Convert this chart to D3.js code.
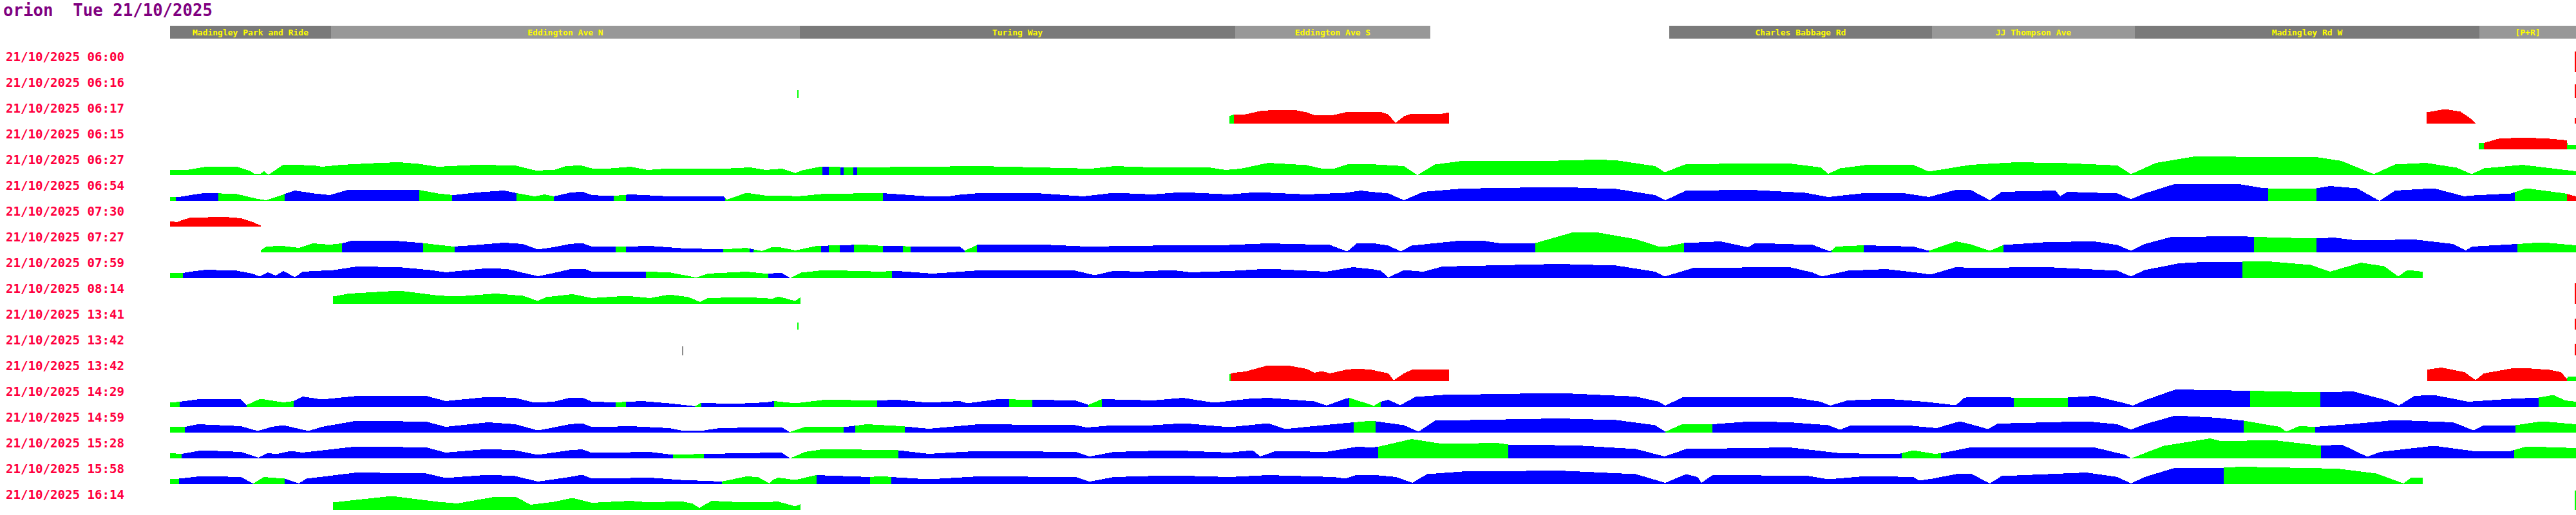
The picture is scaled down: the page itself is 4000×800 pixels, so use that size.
<!DOCTYPE html>
<html>
<head>
<meta charset="utf-8">
<script src="https://cdn.jsdelivr.net/npm/d3@7"></script>
<style>
  body { margin: 0; background: #fff; }
  svg { display: block; }
</style>
</head>
<body>
<div id="chart"></div>
<script>
const width = 4000;
const height = 800;

const title = 'orion  Tue 21/10/2025';

// Trip start times, one row each (top to bottom)
const tripTimes = ['21/10/2025 06:00', '21/10/2025 06:16', '21/10/2025 06:17', '21/10/2025 06:15',
  '21/10/2025 06:27', '21/10/2025 06:54', '21/10/2025 07:30', '21/10/2025 07:27', '21/10/2025 07:59',
  '21/10/2025 08:14', '21/10/2025 13:41', '21/10/2025 13:42', '21/10/2025 13:42', '21/10/2025 14:29',
  '21/10/2025 14:59', '21/10/2025 15:28', '21/10/2025 15:58', '21/10/2025 16:14'];

// Route sections (distance along route, metres)
const routeLength = 3736;
const roadNames = ['Madingley Park and Ride', 'Eddington Ave N', 'Turing Way', 'Eddington Ave S',
  'Charles Babbage Rd', 'JJ Thompson Ave', 'Madingley Rd W', '[P+R]'];
const roadFrom = [0, 250, 978, 1654, 2328, 2736, 3051, 3586];
const roadTo = [250, 978, 1654, 1957, 2736, 3051, 3586, 3736];

// Speed profiles: flat [distance, speed, distance, speed, ...]
const sp0600 = [3734, 64, 3736, 64];
const sp0616 = [974, 24, 976, 24, 3734, 42, 3736, 42];
const sp0617 = [1645, 23, 1652, 29, 1670, 29, 1693, 39, 1717, 43, 1747, 42, 1765, 35, 1777, 26, 1807, 27,
  1825, 35, 1866, 37, 1880, 36, 1892, 28, 1903, 2, 1916, 23, 1928, 31, 1976, 31, 1986, 35,
  3504, 35, 3533, 45, 3557, 37, 3575, 12, 3580, 0, 3734, 18, 3736, 18];
const sp0615 = [3585, 20, 3593, 20, 3616, 33, 3653, 37, 3695, 33, 3722, 28, 3723, 14, 3736, 14];
const sp0627 = [0, 17, 26, 16, 56, 26, 104, 26, 125, 12, 131, 4, 140, 4, 146, 12, 153, 1, 176, 33, 224, 30,
  236, 26, 266, 32, 326, 38, 356, 40, 386, 35, 416, 26, 476, 32, 536, 30, 560, 18, 569, 14, 589, 16,
  596, 16, 614, 28, 638, 30, 655, 21, 685, 21, 715, 26, 742, 16, 775, 21, 835, 21, 871, 21, 901, 24,
  925, 16, 950, 20, 971, 6, 980, 14, 1010, 26, 1070, 24, 1166, 26, 1256, 28, 1346, 24, 1430, 20,
  1466, 28, 1526, 24, 1616, 23, 1639, 16, 1663, 20, 1705, 38, 1765, 31, 1789, 20, 1807, 20, 1831, 35,
  1856, 35, 1916, 28, 1937, 0, 1964, 33, 2006, 44, 2156, 45, 2216, 48, 2246, 46, 2306, 28, 2321, 9,
  2354, 34, 2456, 36, 2515, 36, 2563, 24, 2575, 4, 2593, 21, 2635, 32, 2707, 32, 2731, 11, 2796, 32,
  2868, 40, 2946, 37, 3024, 30, 3045, 3, 3084, 38, 3144, 58, 3336, 55, 3372, 44, 3422, 3, 3455, 33,
  3503, 38, 3551, 23, 3574, 3, 3593, 21, 3653, 32, 3736, 12];
const sp0654 = [0, 12, 14, 12, 32, 18, 56, 25, 104, 21, 134, 7, 149, 2, 176, 20, 194, 32, 224, 23, 248, 18,
  278, 35, 326, 35, 386, 34, 416, 23, 440, 18, 476, 26, 518, 32, 536, 25, 566, 14, 581, 20, 596, 14,
  620, 25, 640, 29, 655, 18, 685, 15, 715, 20, 775, 14, 859, 14, 865, 4, 895, 25, 919, 18, 926, 16,
  950, 17, 974, 14, 1016, 22, 1106, 24, 1178, 14, 1208, 14, 1226, 19, 1262, 25, 1346, 24, 1418, 14,
  1466, 25, 1526, 20, 1571, 27, 1645, 20, 1687, 27, 1765, 20, 1825, 25, 1849, 32, 1856, 30, 1892, 23,
  1916, 2, 1946, 28, 2006, 38, 2156, 43, 2246, 37, 2306, 18, 2322, 2, 2354, 32, 2456, 34, 2539, 25,
  2575, 12, 2635, 25, 2695, 23, 2731, 12, 2773, 34, 2796, 34, 2826, 2, 2844, 28, 2928, 32, 2935, 14,
  2946, 28, 3024, 23, 3045, 5, 3066, 23, 3114, 53, 3216, 51, 3246, 41, 3258, 39, 3333, 39, 3354, 46,
  3396, 39, 3431, 0, 3455, 32, 3515, 39, 3563, 14, 3569, 16, 3635, 23, 3659, 39, 3719, 23, 3736, 14];
const sp0730 = [0, 17, 11, 14, 20, 21, 32, 28, 86, 30, 110, 26, 131, 12, 141, 3];
const sp0727 = [141, 7, 149, 17, 170, 21, 200, 14, 221, 28, 248, 24, 267, 28, 284, 37, 356, 35, 392, 29,
  440, 18, 476, 23, 518, 30, 548, 26, 571, 9, 596, 16, 620, 26, 640, 29, 655, 18, 692, 17, 745, 20,
  793, 13, 859, 9, 895, 14, 919, 4, 936, 17, 944, 17, 971, 6, 1004, 20, 1076, 24, 1106, 20, 1130, 21,
  1154, 17, 1226, 19, 1234, 5, 1253, 23, 1346, 25, 1424, 18, 1526, 21, 1645, 23, 1705, 28, 1801, 23,
  1828, 3, 1843, 28, 1866, 29, 1892, 21, 1911, 3, 1928, 21, 2006, 37, 2036, 37, 2066, 28, 2120, 29,
  2180, 63, 2216, 62, 2276, 41, 2312, 18, 2321, 17, 2351, 29, 2408, 34, 2450, 16, 2462, 29, 2551, 23,
  2578, 3, 2587, 18, 2630, 22, 2707, 18, 2731, 5, 2773, 34, 2796, 25, 2826, 5, 2847, 23, 2916, 32,
  2988, 34, 3024, 23, 3045, 5, 3066, 26, 3108, 48, 3216, 50, 3236, 48, 3333, 43, 3360, 46, 3396, 37,
  3485, 40, 3545, 26, 3565, 6, 3575, 18, 3645, 26, 3683, 31, 3736, 22];
const sp0759 = [0, 16, 20, 16, 32, 20, 56, 26, 104, 23, 128, 14, 139, 5, 152, 18, 164, 8, 176, 22, 194, 3,
  206, 20, 254, 25, 290, 36, 356, 34, 404, 25, 428, 18, 494, 31, 524, 28, 571, 6, 596, 16, 620, 27,
  644, 29, 655, 20, 739, 20, 775, 18, 817, 2, 835, 14, 895, 20, 925, 14, 950, 16, 963, 0, 980, 17,
  1016, 25, 1106, 20, 1124, 23, 1184, 14, 1256, 24, 1406, 23, 1436, 9, 1466, 23, 1502, 20, 1556, 25,
  1585, 18, 1645, 22, 1705, 29, 1765, 23, 1795, 20, 1837, 34, 1866, 28, 1880, 23, 1892, 2, 1916, 25,
  1946, 20, 1976, 36, 2156, 44, 2246, 39, 2306, 20, 2321, 5, 2366, 32, 2515, 34, 2551, 17, 2565, 5,
  2605, 23, 2665, 28, 2713, 17, 2734, 11, 2773, 34, 2796, 32, 2916, 34, 3024, 23, 3045, 5, 3066, 25,
  3120, 46, 3156, 50, 3218, 51, 3252, 53, 3324, 41, 3354, 20, 3402, 48, 3438, 37, 3460, 5, 3474, 25,
  3498, 20];
const sp0814 = [253, 23, 278, 32, 356, 41, 416, 26, 446, 23, 506, 32, 548, 25, 571, 9, 584, 21, 625, 30,
  655, 18, 709, 25, 745, 18, 775, 29, 805, 21, 823, 6, 835, 18, 895, 21, 936, 16, 944, 23, 971, 9,
  979, 21, 3734, 64, 3736, 64];
const sp1341 = [974, 22, 976, 22, 3734, 34, 3736, 34];
const sp1342a = [795, 28, 797, 28, 3734, 36, 3736, 36];
const sp1342b = [1645, 22, 1652, 26, 1670, 30, 1705, 49, 1735, 49, 1765, 38, 1777, 26, 1789, 31, 1801, 24,
  1825, 35, 1843, 39, 1866, 35, 1892, 24, 1900, 3, 1916, 24, 1928, 35, 1986, 37,
  3505, 36, 3527, 42, 3563, 28, 3580, 3, 3593, 24, 3635, 39, 3653, 41, 3695, 35, 3713, 28, 3722, 6,
  3723, 14, 3736, 14];
const sp1429 = [0, 13, 15, 16, 50, 25, 110, 23, 119, 6, 140, 25, 176, 14, 192, 18, 206, 32, 236, 23,
  296, 35, 398, 34, 428, 18, 494, 31, 536, 28, 566, 13, 596, 16, 620, 28, 640, 29, 655, 16, 692, 14,
  733, 18, 775, 11, 815, 2, 825, 13, 871, 9, 926, 14, 938, 18, 971, 11, 1016, 22, 1098, 20, 1130, 22,
  1178, 13, 1226, 18, 1238, 11, 1286, 24, 1339, 22, 1406, 20, 1426, 6, 1447, 24, 1526, 20, 1573, 28,
  1621, 13, 1675, 25, 1705, 28, 1777, 17, 1796, 4, 1825, 25, 1831, 28, 1866, 6, 1868, 2, 1880, 16,
  1892, 22, 1910, 5, 1934, 31, 1976, 37, 2156, 43, 2276, 32, 2312, 16, 2322, 4, 2348, 29, 2515, 31,
  2563, 16, 2578, 4, 2605, 20, 2665, 25, 2725, 16, 2773, 5, 2786, 28, 2796, 31, 2850, 31, 2863, 28,
  2947, 29, 2988, 34, 3036, 11, 3048, 4, 3066, 20, 3114, 54, 3230, 50, 3339, 45, 3390, 48, 3443, 20,
  3461, 4, 3485, 34, 3515, 37, 3569, 16, 3635, 25, 3678, 29, 3701, 37, 3719, 20, 3736, 16];
const sp1459 = [0, 17, 23, 18, 44, 26, 110, 20, 136, 5, 158, 18, 176, 23, 215, 5, 236, 18, 290, 37,
  398, 34, 428, 18, 494, 32, 536, 26, 571, 7, 596, 16, 620, 26, 640, 29, 655, 17, 715, 20, 775, 14,
  793, 7, 823, 5, 853, 14, 936, 17, 950, 16, 962, 2, 986, 18, 1046, 17, 1082, 26, 1136, 20, 1178, 12,
  1256, 26, 1406, 23, 1424, 16, 1466, 23, 1526, 23, 1574, 29, 1645, 17, 1705, 29, 1732, 11, 1765, 18,
  1838, 32, 1866, 37, 1916, 23, 1939, 3, 1964, 37, 2156, 44, 2246, 39, 2306, 23, 2322, 3, 2348, 26,
  2395, 26, 2456, 35, 2515, 32, 2575, 23, 2593, 9, 2611, 23, 2695, 23, 2743, 14, 2779, 35, 2796, 26,
  2823, 11, 2838, 28, 2976, 35, 3024, 26, 3045, 9, 3066, 26, 3114, 53, 3180, 46, 3220, 37, 3276, 18,
  3286, 3, 3306, 20, 3331, 18, 3396, 28, 3455, 39, 3545, 32, 3577, 7, 3593, 23, 3642, 23, 3683, 35,
  3736, 26];
const sp1528 = [0, 16, 18, 14, 50, 25, 110, 20, 137, 2, 152, 17, 164, 13, 188, 23, 206, 18, 290, 37,
  398, 34, 428, 18, 494, 29, 536, 25, 571, 11, 620, 25, 640, 28, 655, 17, 745, 20, 781, 11, 829, 14,
  895, 16, 936, 18, 950, 17, 963, 0, 986, 20, 1016, 29, 1131, 25, 1178, 14, 1256, 23, 1406, 20,
  1428, 6, 1466, 20, 1555, 25, 1645, 18, 1681, 25, 1693, 6, 1717, 23, 1795, 20, 1843, 36, 1866, 34,
  1876, 36, 1928, 60, 1976, 45, 2060, 48, 2078, 43, 2186, 40, 2276, 29, 2321, 6, 2354, 29, 2515, 34,
  2593, 16, 2683, 13, 2707, 25, 2740, 14, 2750, 16, 2796, 34, 2988, 34, 3036, 11, 3045, 0, 3096, 39,
  3168, 62, 3186, 53, 3264, 57, 3324, 43, 3340, 39, 3372, 43, 3412, 5, 3432, 20, 3515, 39, 3575, 23,
  3635, 23, 3659, 37, 3736, 32];
const sp1558 = [0, 16, 14, 17, 50, 25, 110, 22, 129, 2, 146, 22, 178, 17, 200, 2, 212, 17, 290, 36,
  398, 33, 428, 19, 494, 29, 536, 25, 571, 8, 620, 22, 640, 29, 655, 17, 745, 20, 793, 13, 857, 8,
  895, 24, 913, 22, 931, 2, 936, 13, 944, 20, 971, 13, 1003, 28, 1087, 22, 1106, 25, 1120, 22,
  1178, 15, 1256, 24, 1406, 22, 1428, 8, 1466, 22, 1555, 27, 1645, 22, 1705, 28, 1807, 22, 1825, 17,
  1843, 29, 1866, 29, 1904, 22, 1929, 4, 1952, 31, 2006, 39, 2156, 42, 2276, 31, 2322, 4, 2354, 31,
  2372, 22, 2378, 4, 2396, 29, 2545, 25, 2575, 15, 2635, 25, 2707, 22, 2716, 11, 2737, 17, 2773, 31,
  2796, 33, 2826, 2, 2844, 25, 2976, 36, 3024, 22, 3045, 2, 3066, 22, 3114, 51, 3189, 51, 3216, 54,
  3366, 48, 3426, 33, 3468, 2, 3480, 20, 3498, 20];
const sp1614 = [253, 23, 344, 43, 416, 25, 446, 20, 506, 41, 536, 41, 560, 16, 596, 25, 625, 37, 655, 22,
  715, 28, 745, 23, 793, 27, 811, 20, 822, 6, 841, 28, 895, 23, 936, 25, 944, 26, 971, 11, 979, 18,
  3734, 60, 3736, 60];

// Vehicle status runs: [from, to, status]  G = on time, B = blue status, R = red status, X = unknown
const st0600 = [[3734, 3736, 'R']];
const st0616 = [[974, 976, 'G'], [3734, 3736, 'R']];
const st0617 = [[1645, 1652, 'G'], [1652, 1986, 'R'], [3504, 3580, 'R'], [3734, 3736, 'R']];
const st0615 = [[3585, 3593, 'G'], [3593, 3722, 'R'], [3722, 3736, 'G']];
const st0627 = [[0, 1013, 'G'], [1013, 1023, 'B'], [1023, 1041, 'G'], [1041, 1046, 'B'], [1046, 1061, 'G'],
  [1061, 1067, 'B'], [1067, 3736, 'G']];
const st0654 = [[0, 9, 'G'], [9, 75, 'B'], [75, 178, 'G'], [178, 387, 'B'], [387, 438, 'G'], [438, 538, 'B'],
  [538, 596, 'G'], [596, 689, 'B'], [689, 708, 'G'], [708, 862, 'B'], [862, 1107, 'G'], [1107, 3258, 'B'],
  [3258, 3333, 'G'], [3333, 3641, 'B'], [3641, 3722, 'G'], [3722, 3736, 'R']];
const st0730 = [[0, 141, 'R']];
const st0727 = [[141, 267, 'G'], [267, 393, 'B'], [393, 442, 'G'], [442, 692, 'B'], [692, 708, 'G'],
  [708, 859, 'B'], [859, 900, 'G'], [900, 906, 'B'], [906, 1011, 'G'], [1011, 1023, 'B'], [1023, 1040, 'G'],
  [1040, 1062, 'B'], [1062, 1107, 'G'], [1107, 1138, 'B'], [1138, 1150, 'G'], [1150, 1234, 'B'],
  [1234, 1253, 'G'], [1253, 2120, 'B'], [2120, 2351, 'G'], [2351, 2580, 'B'], [2580, 2630, 'G'],
  [2630, 2731, 'B'], [2731, 2847, 'G'], [2847, 3236, 'B'], [3236, 3333, 'G'], [3333, 3645, 'B'],
  [3645, 3736, 'G']];
const st0759 = [[0, 20, 'G'], [20, 739, 'B'], [739, 929, 'G'], [929, 963, 'B'], [963, 1121, 'G'],
  [1121, 3218, 'B'], [3218, 3498, 'G']];
const st0814 = [[253, 979, 'G'], [3734, 3736, 'R']];
const st1341 = [[974, 976, 'G'], [3734, 3736, 'R']];
const st1342a = [[795, 797, 'X'], [3734, 3736, 'R']];
const st1342b = [[1645, 1647, 'G'], [1647, 1986, 'R'], [3505, 3722, 'R'], [3722, 3736, 'G']];
const st1429 = [[0, 15, 'G'], [15, 119, 'B'], [119, 192, 'G'], [192, 692, 'B'], [692, 708, 'G'],
  [708, 815, 'B'], [815, 825, 'G'], [825, 938, 'B'], [938, 1098, 'G'], [1098, 1303, 'B'], [1303, 1339, 'G'],
  [1339, 1426, 'B'], [1426, 1447, 'G'], [1447, 1831, 'B'], [1831, 1880, 'G'], [1880, 2863, 'B'],
  [2863, 2947, 'G'], [2947, 3230, 'B'], [3230, 3339, 'G'], [3339, 3678, 'B'], [3678, 3736, 'G']];
const st1459 = [[0, 23, 'G'], [23, 962, 'B'], [962, 1046, 'G'], [1046, 1064, 'B'], [1064, 1141, 'G'],
  [1141, 1838, 'B'], [1838, 1872, 'G'], [1872, 2322, 'B'], [2322, 2395, 'G'], [2395, 3220, 'B'],
  [3220, 3331, 'G'], [3331, 3642, 'B'], [3642, 3736, 'G']];
const st1528 = [[0, 18, 'G'], [18, 781, 'B'], [781, 829, 'G'], [829, 963, 'B'], [963, 1131, 'G'],
  [1131, 1876, 'B'], [1876, 2078, 'G'], [2078, 2689, 'B'], [2689, 2750, 'G'], [2750, 3045, 'B'],
  [3045, 3340, 'G'], [3340, 3640, 'B'], [3640, 3736, 'G']];
const st1558 = [[0, 14, 'G'], [14, 129, 'B'], [129, 178, 'G'], [178, 857, 'B'], [857, 1004, 'G'],
  [1004, 1087, 'B'], [1087, 1120, 'G'], [1120, 3189, 'B'], [3189, 3498, 'G']];
const st1614 = [[253, 979, 'G'], [3734, 3736, 'G']];

const tripSpeeds = [sp0600, sp0616, sp0617, sp0615, sp0627, sp0654, sp0730, sp0727, sp0759, sp0814,
  sp1341, sp1342a, sp1342b, sp1429, sp1459, sp1528, sp1558, sp1614];
const tripStatus = [st0600, st0616, st0617, st0615, st0627, st0654, st0730, st0727, st0759, st0814,
  st1341, st1342a, st1342b, st1429, st1459, st1528, st1558, st1614];

const statusColor = {G: '#00ff00', B: '#0000ff', R: '#ff0000', X: '#8c8c8c'};

const pairs = flat => d3.range(0, flat.length, 2).map(i => [flat[i], flat[i + 1]]);

const valueAt = (pts, d) => {
  if (d <= pts[0][0]) return pts[0][1];
  const last = pts[pts.length - 1];
  if (d >= last[0]) return last[1];
  const i = d3.bisector(p => p[0]).right(pts, d);
  const a = pts[i - 1], b = pts[i];
  return a[1] + (b[1] - a[1]) * (d - a[0]) / (b[0] - a[0]);
};

const x = d3.scaleLinear().domain([0, routeLength]).range([264, 4000]);
const speed = d3.scaleLinear().domain([0, 60]).range([0, 30]);
const rowTop = d3.scaleLinear().domain([0, tripTimes.length - 1]).range([80, 760]);

const svg = d3.select('#chart').append('svg')
  .attr('width', width)
  .attr('height', height)
  .style('background', '#fff');

svg.append('text')
  .attr('x', 5)
  .attr('y', 25)
  .attr('fill', '#800080')
  .attr('font-family', 'DejaVu Sans Mono')
  .attr('font-weight', 'bold')
  .attr('font-size', 27)
  .attr('textLength', 325)
  .attr('lengthAdjust', 'spacingAndGlyphs')
  .style('white-space', 'pre')
  .text(title);

// route header
const roads = roadNames.map((name, i) => ({name, from: roadFrom[i], to: roadTo[i], i}));

const header = svg.append('g').selectAll('g')
  .data(roads)
  .join('g');

header.append('rect')
  .attr('x', d => x(d.from))
  .attr('y', 40)
  .attr('width', d => x(d.to) - x(d.from))
  .attr('height', 20)
  .attr('fill', d => d.i % 2 ? '#989898' : '#7a7a7a')
  .attr('shape-rendering', 'crispEdges');

header.append('text')
  .attr('x', d => (x(d.from) + x(d.to)) / 2)
  .attr('y', 55)
  .attr('text-anchor', 'middle')
  .attr('fill', '#ffff00')
  .attr('font-family', 'DejaVu Sans Mono')
  .attr('font-weight', 'bold')
  .attr('font-size', 13)
  .text(d => d.name);

// trip rows
const rows = svg.append('g').selectAll('g')
  .data(tripTimes.map((t, i) => ({t, i, pts: pairs(tripSpeeds[i]), runs: tripStatus[i]})))
  .join('g')
  .attr('transform', d => `translate(0,${rowTop(d.i)})`);

rows.append('text')
  .attr('x', 9)
  .attr('y', 15)
  .attr('fill', '#ff0040')
  .attr('font-family', 'DejaVu Sans Mono')
  .attr('font-weight', 'bold')
  .attr('font-size', 20)
  .attr('textLength', 184)
  .attr('lengthAdjust', 'spacingAndGlyphs')
  .text(d => d.t);

const base = 32;
const area = d3.area()
  .x(p => x(p[0]))
  .y0(base)
  .y1(p => base - speed(p[1]));

rows.each(function (row) {
  const {pts, runs} = row;
  d3.select(this).selectAll('path')
    .data(runs)
    .join('path')
    .attr('fill', r => statusColor[r[2]])
    .attr('shape-rendering', 'crispEdges')
    .attr('d', r => {
      const [d0, d1] = r;
      const seg = [[d0, valueAt(pts, d0)]]
        .concat(pts.filter(p => p[0] > d0 && p[0] < d1))
        .concat([[d1, valueAt(pts, d1)]]);
      return area(seg);
    });
});
</script>
</body>
</html>
